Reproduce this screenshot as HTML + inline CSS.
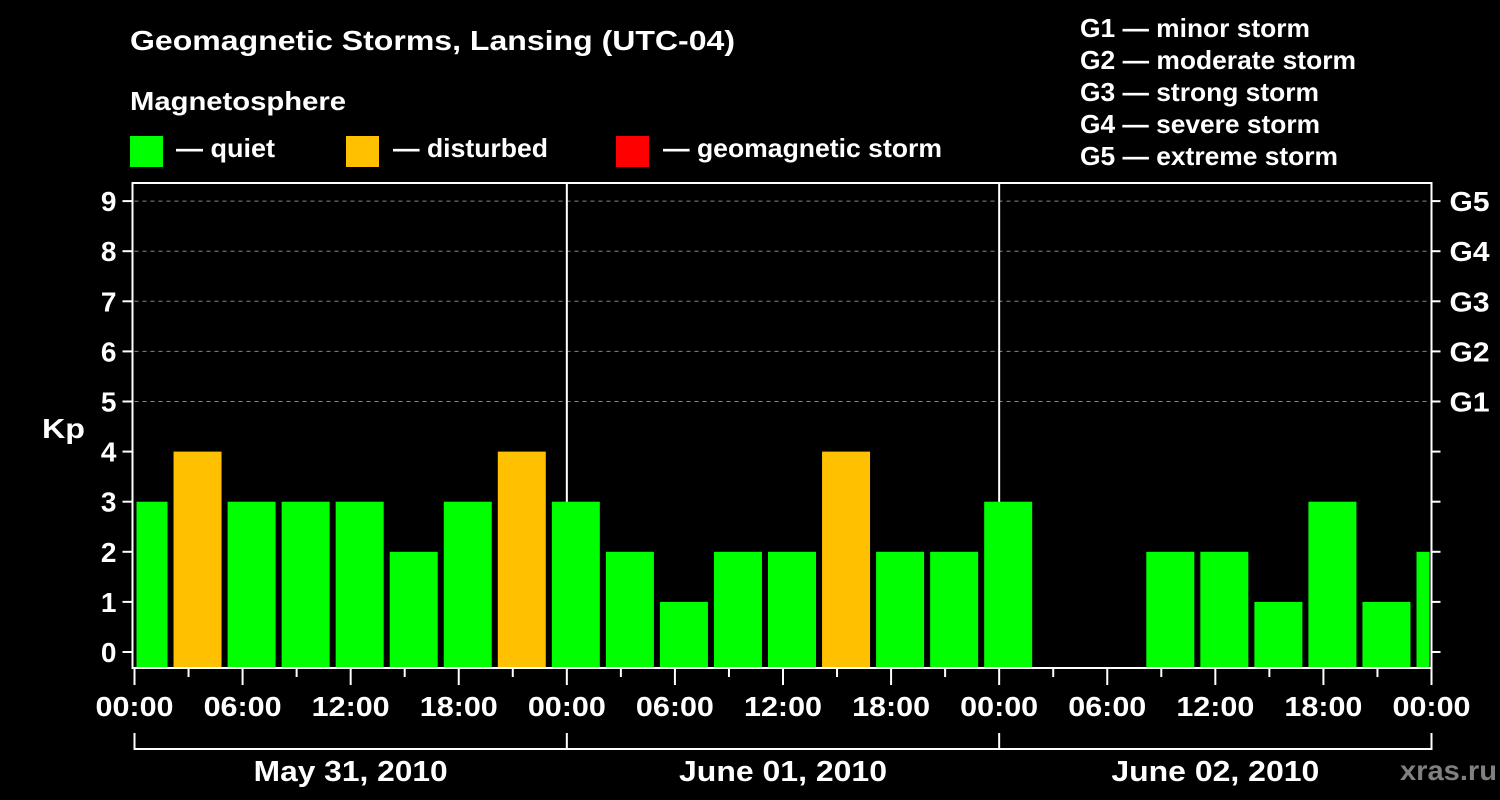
<!DOCTYPE html>
<html><head><meta charset="utf-8"><style>
html,body{margin:0;padding:0;background:#000;}
svg{display:block;font-family:"Liberation Sans",Arial,sans-serif;font-weight:bold;}
</style></head><body>
<svg id="c" width="1500" height="800" viewBox="0 0 1500 800">
<text x="130" y="50" fill="#fff" font-size="28" textLength="605" lengthAdjust="spacingAndGlyphs">Geomagnetic Storms, Lansing (UTC-04)</text>
<text x="130" y="110" fill="#fff" font-size="26" textLength="216" lengthAdjust="spacingAndGlyphs">Magnetosphere</text>
<g><rect x="130" y="136" width="33" height="31" fill="#00ff00"/><text x="176" y="157" fill="#fff" font-size="26" textLength="99" lengthAdjust="spacingAndGlyphs">— quiet</text></g>
<g><rect x="346" y="136" width="33" height="31" fill="#ffc000"/><text x="393" y="157" fill="#fff" font-size="26" textLength="155" lengthAdjust="spacingAndGlyphs">— disturbed</text></g>
<g><rect x="616" y="136" width="33" height="31" fill="#ff0000"/><text x="663" y="157" fill="#fff" font-size="26" textLength="279" lengthAdjust="spacingAndGlyphs">— geomagnetic storm</text></g>
<g fill="#fff" font-size="26">
<text x="1080" y="37" textLength="230" lengthAdjust="spacingAndGlyphs">G1 — minor storm</text>
<text x="1080" y="69" textLength="276" lengthAdjust="spacingAndGlyphs">G2 — moderate storm</text>
<text x="1080" y="101" textLength="239" lengthAdjust="spacingAndGlyphs">G3 — strong storm</text>
<text x="1080" y="133" textLength="240" lengthAdjust="spacingAndGlyphs">G4 — severe storm</text>
<text x="1080" y="165" textLength="258" lengthAdjust="spacingAndGlyphs">G5 — extreme storm</text>
</g>
<g id="grid"></g><g id="bars"></g><g id="axes"></g>
<text x="42" y="438" fill="#fff" font-size="28" textLength="43" lengthAdjust="spacingAndGlyphs">Kp</text>
<text x="1400" y="780" fill="#808080" font-size="28" textLength="97" lengthAdjust="spacingAndGlyphs">xras.ru</text>
</svg>
<script>
const kpValues=[3,4,3,3,3,2,3,4,3,2,1,2,2,4,2,2,3,null,null,2,2,1,3,1,2];
const yTicks=[0,1,2,3,4,5,6,7,8,9];
const gLabels=["G1","G2","G3","G4","G5"];
const xTickLabels=["00:00","06:00","12:00","18:00","00:00","06:00","12:00","18:00","00:00","06:00","12:00","18:00","00:00"];
const dayLabels=["May 31, 2010","June 01, 2010","June 02, 2010"];
const NS="http://www.w3.org/2000/svg";
const X0=134.5,X1=1431.5,Y0=652,PY=50.1,TOP=183,BOT=668;
const pxH=(X1-X0)/72;
const x=h=>X0+h*pxH;
const y=v=>Y0-v*PY;
function mk(p,tag,a){const e=document.createElementNS(NS,tag);for(const k in a)e.setAttribute(k,a[k]);p.appendChild(e);return e;}
const grid=document.getElementById('grid'),bars=document.getElementById('bars'),axes=document.getElementById('axes');
for(let v=5;v<=9;v++){const l=mk(grid,'line',{x1:X0,x2:X1,y1:y(v),y2:y(v),stroke:'#888','stroke-dasharray':'4 4','stroke-width':1});

}
for(let d=1;d<3;d++){const l=mk(grid,'line',{x1:x(d*24),x2:x(d*24),y1:TOP,y2:BOT,stroke:'#fff','stroke-width':2});

}
const cp=mk(bars,'clipPath',{id:'cp'});mk(cp,'rect',{x:X0+2,y:TOP,width:X1-X0-4,height:BOT-TOP});
bars.setAttribute('clip-path','url(#cp)');
kpValues.forEach((v,i)=>{if(v===null)return;const c=0.5+3*i;const col=v>=5?'#ff0000':v>=4?'#ffc000':'#00ff00';
const r=mk(bars,'rect',{x:x(c)-24,width:48,y:y(v),height:BOT-1-y(v),fill:col});

});
const fr=mk(axes,'rect',{x:X0-2,y:TOP,width:X1-X0+2,height:BOT-TOP,fill:'none',stroke:'#fff','stroke-width':2});


yTicks.forEach(v=>{mk(axes,'line',{x1:X0-12,x2:X0-3,y1:y(v),y2:y(v),stroke:'#fff','stroke-width':2});
mk(axes,'line',{x1:X1,x2:X1+9,y1:y(v),y2:y(v),stroke:'#fff','stroke-width':2});
const t=mk(axes,'text',{x:X0-18,y:y(v)+10,fill:'#fff','font-size':28,'text-anchor':'end'});t.textContent=v;

});
gLabels.forEach((g,i)=>{const t=mk(axes,'text',{x:X1+18,y:y(5+i)+10,fill:'#fff','font-size':28,textLength:40,lengthAdjust:'spacingAndGlyphs'});t.textContent=g;

});
for(let h=0;h<=72;h+=3){const major=h%6===0;mk(axes,'line',{x1:x(h),x2:x(h),y1:BOT+1,y2:BOT+(major?17:9),stroke:'#fff','stroke-width':2});}
xTickLabels.forEach((s,i)=>{const t=mk(axes,'text',{x:x(i*6),y:716,fill:'#fff','font-size':28,'text-anchor':'middle',textLength:78,lengthAdjust:'spacingAndGlyphs'});t.textContent=s;

});
mk(axes,'path',{d:`M${x(0)},733V749H${x(72)}V733`,fill:'none',stroke:'#fff','stroke-width':2});
for(let d=1;d<3;d++)mk(axes,'line',{x1:x(d*24),x2:x(d*24),y1:733,y2:749,stroke:'#fff','stroke-width':2});
const dayW=[194,208,208];
dayLabels.forEach((s,i)=>{const t=mk(axes,'text',{x:x(i*24+12),y:781,fill:'#fff','font-size':29,'text-anchor':'middle',textLength:dayW[i],lengthAdjust:'spacingAndGlyphs'});t.textContent=s;

});
</script>
</body></html>
